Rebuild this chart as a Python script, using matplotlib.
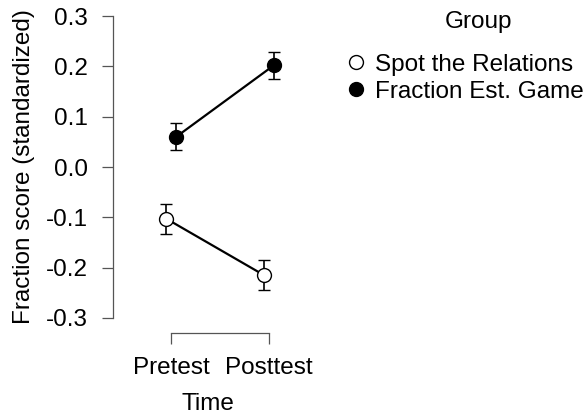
import matplotlib
matplotlib.use('Agg')
import matplotlib.pyplot as plt
from matplotlib.lines import Line2D

plt.rcParams['font.family'] = ['Liberation Sans', 'DejaVu Sans']
plt.rcParams['axes.unicode_minus'] = False

# data
times = ['Pretest', 'Posttest']
groups = ['Spot the Relations', 'Fraction Est. Game']
spot_mean = [-0.103, -0.215]
spot_err = [0.030, 0.030]
game_mean = [0.060, 0.202]
game_err = [0.027, 0.027]
yticks = [-0.3, -0.2, -0.1, 0.0, 0.1, 0.2, 0.3]

fs = 17.5

fig = plt.figure(figsize=(5.84, 4.18), dpi=100)
ax = fig.add_axes([113 / 584, 85 / 418, 190 / 584, 332 / 418])

x = [0, 1]
dodge = 0.05
# open circles: Spot the Relations
ax.errorbar([i - dodge for i in x], spot_mean, yerr=spot_err, color='black',
            lw=1.6, marker='o', ms=10, mfc='white', mec='black', mew=1,
            capsize=4, elinewidth=1.2, capthick=1.2, zorder=3)
# filled circles: Fraction Est. Game
ax.errorbar([i + dodge for i in x], game_mean, yerr=game_err, color='black',
            lw=1.6, marker='o', ms=10, mfc='black', mec='black', mew=1,
            capsize=4, elinewidth=1.2, capthick=1.2, zorder=3)

ax.set_ylim(-0.33, 0.33)
ax.set_xlim(-0.598, 1.35)
ax.set_yticks(yticks)
ax.set_yticklabels(['%.1f' % v for v in yticks])
ax.set_xticks(x)
ax.set_xticklabels(times)

for s in ['top', 'right']:
    ax.spines[s].set_visible(False)
ax.spines['left'].set_bounds(-0.3, 0.3)
ax.spines['bottom'].set_bounds(0, 1)
for s in ['left', 'bottom']:
    ax.spines[s].set_color('#555555')
    ax.spines[s].set_linewidth(0.9)

ax.tick_params(axis='y', length=8, width=0.9, color='#555555', pad=10, labelsize=fs)
ax.tick_params(axis='x', length=8, width=0.9, color='#555555', pad=9, labelsize=fs)

ax.set_ylabel('Fraction score (standardized)', fontsize=fs, labelpad=8)
ax.set_xlabel('Time', fontsize=fs, labelpad=10)

# legend
fig.text(478 / 584, 1 - 22 / 418, 'Group', fontsize=fs, ha='center', va='center')
handles = [Line2D([], [], ls='none', marker='o', ms=10, mfc='white', mec='black', mew=1),
           Line2D([], [], ls='none', marker='o', ms=10, mfc='black', mec='black', mew=1)]
fig.legend(handles, groups, loc='upper left', bbox_to_anchor=(332 / 584, 1 - 44 / 418),
           frameon=False, fontsize=fs, handletextpad=0.15, labelspacing=0.2,
           borderaxespad=0, handlelength=1.2)

fig.savefig('out.png', dpi=100)
